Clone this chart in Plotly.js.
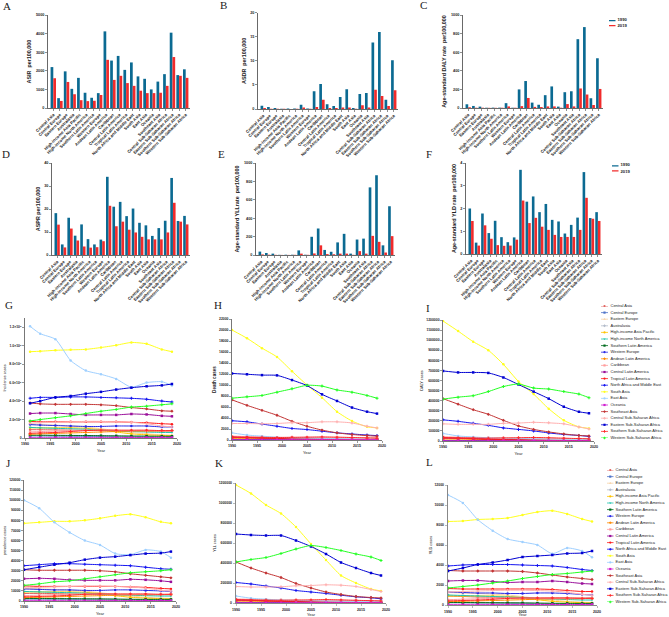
<!DOCTYPE html>
<html>
<head>
<meta charset="utf-8">
<script src="https://cdn.plot.ly/plotly-3.0.1.min.js"></script>
<style>body{margin:0;background:#fff}</style>
</head>
<body>
<div id="chart"></div>
<script>
var regions = ['Central Asia','Central Europe','Eastern Europe','Australasia','High-income Asia Pacific','High-income North America','Southern Latin America','Western Europe','Andean Latin America','Caribbean','Central Latin America','Tropical Latin America','North Africa and Middle East','South Asia','East Asia','Oceania','Southeast Asia','Central Sub-Saharan Africa','Eastern Sub-Saharan Africa','Southern Sub-Saharan Africa','Western Sub-Saharan Africa'];

// bar panels, 1990 and 2019
var asir1990 = [2200,530,1970,1030,1620,820,550,800,4120,2550,2800,2050,2450,1700,1570,1000,1420,1820,4050,1770,2080];
var asir2019 = [1600,380,1400,740,420,370,390,700,2590,1510,1730,1340,1190,930,800,800,820,1190,2740,1730,1620];
var asdr1990 = [0.7,0.4,0.2,0.05,0.1,0.1,0.9,0.1,3.7,5.2,1.0,0.6,2.5,4.1,0.2,3.1,3.3,13.8,16,1.9,10.1];
var asdr2019 = [0.2,0.05,0.05,0.03,0.02,0.05,0.3,0.05,0.4,1.9,0.2,0.2,0.3,0.3,0.03,0.8,0.3,4.0,2.7,0.6,3.9];
var daly1990 = [40,22,15,3,4,4,52,3,200,290,58,35,138,232,15,170,180,740,870,105,535];
var daly2019 = [8,3,3,2,2,3,17,3,20,108,12,10,17,17,3,42,17,210,145,32,205];
var aspr1990 = [18.2,4.6,16.2,8.4,13.3,6.9,4.6,6.7,34,21,23.1,16.9,20.2,14,12.9,8.3,11.7,14.9,33.5,14.8,17];
var aspr2019 = [13.2,3.3,11.5,6.3,3.7,3.2,3.4,6,21.4,12.5,14.5,11,9.8,7.9,6.8,6.8,6.8,9.8,22.7,14.5,13.3];
var yll1990 = [37,22,15,2,3,3,50,3,198,288,55,35,137,230,15,168,178,735,867,105,530];
var yll2019 = [6,3,2,1,1,2,15,2,17,105,10,8,15,15,2,42,15,208,143,27,205];
var yld1990 = [2.0,0.5,1.78,0.92,1.46,0.74,0.52,0.73,3.7,2.3,2.53,1.84,2.2,1.5,1.43,0.9,1.28,1.6,3.6,1.58,1.84];
var yld2019 = [1.45,0.37,1.26,0.67,0.39,0.36,0.37,0.63,2.35,1.36,1.59,1.2,1.06,0.84,0.75,0.75,0.75,1.06,2.47,1.55,1.45];

// line panels, one row per region in legend order
var years = [1990,1993,1996,1999,2002,2005,2008,2011,2014,2017,2019];
var yearsG = [1991,1993,1996,1999,2002,2005,2008,2011,2014,2017,2019];

var incidence = [ // thousands
[9,9,8.8,8.5,8.3,8,7.7,7.5,7.5,7.5,7.6],
[2.3,2.2,2,1.9,1.7,1.6,1.5,1.4,1.3,1.2,1.2],
[15,14.5,14,13,12,10,8,6,4.5,3.5,3],
[2.8,2.8,2.7,2.6,2.5,2.4,2.2,2,1.9,1.8,1.8],
[11,11,11,11,10.5,9,6.5,4.5,3.5,2.8,2.5],
[11.5,11,10.5,10,9.5,8.5,7.5,7,6.5,6,6],
[3,3,2.9,2.8,2.7,2.5,2.3,2.1,2,1.9,1.9],
[14.5,14,13.5,13,12.5,12.5,13,13,13,12,12],
[4,4.5,5,5.5,6,6.5,7,7.5,7.5,7.8,8],
[6.5,7,7.5,8,8.5,8.5,8.3,8,8,8,8],
[26.5,27,27,26,25,25,25,26,25.5,24,23.5],
[18,17.5,17.5,17.5,17.5,17.5,17.5,17,16.5,15.5,15],
[43,44,44,44.5,44.5,44,43.5,43,42,40,39],
[93.5,94,95,95.5,96,98,100.5,103.5,102,96,93.5],
[121,113,107,84,73,69,64,55,60,61,57],
[0.3,0.3,0.3,0.4,0.4,0.4,0.5,0.5,0.5,0.6,0.6],
[38,37,36.5,36.5,36.5,36,35,33,31.5,29.5,29],
[16,16.5,17,17.5,18,18,17.5,17,15.5,13,12],
[37.6,40,44,45.5,48,50,52.5,54.5,56,57,58.5],
[5,5.5,6,7,8,8.5,8.5,8.5,8.5,8,8],
[18.5,20,22,24,26.5,29,31,33.5,34.5,36,37]];

var deaths = [
[400,380,350,300,270,240,200,170,150,130,120],
[60,50,40,30,25,20,15,12,10,8,8],
[120,100,90,80,60,50,40,30,25,20,20],
[3,3,2,2,2,2,2,1,1,1,1],
[40,30,25,20,15,12,10,8,6,5,5],
[30,28,25,22,20,18,15,14,13,12,12],
[20,18,15,12,10,8,7,6,5,5,5],
[30,25,22,20,18,15,12,10,9,8,8],
[320,300,270,230,190,160,130,100,85,70,65],
[700,620,550,500,480,470,450,430,400,380,370],
[500,450,380,300,220,170,130,110,90,75,70],
[550,450,350,280,220,170,130,100,90,80,75],
[3500,3300,2900,2500,2100,1900,1600,1300,1100,900,800],
[20000,18500,16700,15100,12500,10000,7700,5150,3450,2400,2200],
[1300,900,700,500,400,350,300,250,200,180,170],
[40,42,44,46,48,50,52,54,56,58,60],
[7300,6300,5400,4500,3400,2500,1800,1300,1000,800,700],
[3000,3000,2950,3000,3150,3150,3300,3300,3100,2500,2200],
[12100,11950,11800,11750,10900,9900,8300,7100,5900,5150,4800],
[500,500,480,450,480,520,560,520,450,380,340],
[7600,7850,8100,8700,9300,9950,9800,9100,8700,8100,7600]];

var dalys = [ // thousands
[24,23,21,18,16,14,12,10,9,8,7],
[3,2.5,2,1.5,1.3,1,0.9,0.7,0.6,0.5,0.5],
[7,6,5,4.5,3.5,3,2.5,2,1.5,1.2,1.2],
[0.2,0.2,0.2,0.1,0.1,0.1,0.1,0.1,0.1,0.1,0.1],
[2,1.7,1.4,1.1,0.9,0.7,0.6,0.5,0.4,0.3,0.3],
[2,1.8,1.6,1.4,1.3,1.1,1,0.9,0.9,0.8,0.8],
[1.3,1.1,0.9,0.8,0.6,0.5,0.4,0.4,0.3,0.3,0.3],
[2,1.6,1.4,1.3,1.1,0.9,0.8,0.7,0.6,0.5,0.5],
[20,19,17,14,12,10,8,6,5,4.5,4],
[42,38,34,31,30,29,28,27,25,24,23],
[31,28,24,19,14,10.5,8,7,5.5,4.6,4.3],
[34,28,22,17,14,10.5,8,6,5.5,5,4.6],
[210,195,175,155,130,115,100,80,65,55,45],
[1190,1090,985,900,760,590,465,320,205,140,125],
[75,50,40,32,28,25,22,20,18,17,16],
[2.5,2.6,2.7,2.8,3,3.1,3.2,3.3,3.5,3.6,3.7],
[420,365,310,265,205,150,115,90,70,55,50],
[170,165,165,165,175,178,185,180,170,140,120],
[695,680,680,675,630,560,490,420,340,290,275],
[31,31,30,28,30,32,35,32,28,24,21],
[415,435,450,490,540,565,525,515,490,465,430]];

var prevalence = [ // thousands
[7.5,7.5,7.3,7,6.9,6.6,6.4,6.2,6.2,6.2,6.3],
[1.9,1.8,1.7,1.6,1.4,1.3,1.2,1.2,1.1,1,1],
[12.3,12,11.5,10.7,9.9,8.2,6.6,4.9,3.7,2.9,2.5],
[2.3,2.3,2.2,2.1,2.1,2,1.8,1.6,1.6,1.5,1.5],
[9,9,9,9,8.6,7.4,5.3,3.7,2.9,2.3,2.1],
[9.5,9,8.6,8.2,7.8,7,6.2,5.8,5.3,4.9,4.9],
[2.5,2.5,2.4,2.3,2.2,2.1,1.9,1.7,1.6,1.6,1.6],
[12,11.5,11,11,10.5,10.5,11,11,10.5,10,9.5],
[3.3,3.7,4.1,4.5,4.9,5.3,5.8,6.2,6.2,6.4,6.6],
[5.3,5.8,6.2,6.6,7,7,6.8,6.6,6.6,6.6,6.6],
[22,22.5,22,21,20.5,20.5,20.5,21.5,21,20,19],
[15,14.5,14.5,14.5,14.5,14.5,14.5,14,13.5,12.5,12],
[35,36,37,37,36.5,36,35.5,35,33.5,32,31.5],
[77,78,79,79,80,82,84.5,86,83,78.5,77],
[100,92,78,68,60,55.6,47,46,50.7,49,43],
[0.3,0.3,0.3,0.3,0.3,0.4,0.4,0.4,0.5,0.5,0.5],
[31,30.5,30.5,30.5,30.5,30,29,27,25.5,24,23],
[13,13.5,14,14.4,14.8,14.8,14.4,14,12.7,10.7,9.8],
[31,33.5,36,38,41,43,44,45.5,47,47.5,49],
[4.1,4.5,4.9,5.7,6.6,7,7,7,7,6.6,6.6],
[15.5,17,19,20,22,24,26,28,29,30,31]];

var ylls = [ // thousands
[23,22,20,18,15,13,11,9.5,8.5,7.5,7],
[2.8,2.4,2,1.5,1.2,1,0.8,0.7,0.6,0.5,0.5],
[6.5,5.5,5,4,3.3,2.8,2.3,1.8,1.4,1.1,1.1],
[0.2,0.2,0.2,0.1,0.1,0.1,0.1,0.1,0.1,0.1,0.1],
[1.9,1.6,1.3,1,0.8,0.7,0.6,0.5,0.4,0.3,0.3],
[1.9,1.7,1.5,1.3,1.2,1,0.9,0.9,0.8,0.8,0.7],
[1.2,1,0.9,0.7,0.6,0.5,0.4,0.3,0.3,0.3,0.3],
[1.9,1.5,1.3,1.2,1,0.9,0.7,0.6,0.6,0.5,0.5],
[19,18,16,14,11,9.5,7.5,6,5,4.2,3.8],
[40,37,33,30,29,28,27,26,24,23,22],
[30,27,23,18,13.5,10,7.8,6.5,5.3,4.4,4.1],
[33,27,21,17,13,10,7.8,6,5.3,4.8,4.5],
[205,190,170,150,125,110,95,78,62,52,42],
[1180,1095,980,895,760,590,430,275,200,140,120],
[70,48,38,30,26,23,20,18,17,16,15],
[2.4,2.5,2.6,2.7,2.9,3,3.1,3.2,3.4,3.5,3.6],
[410,350,300,255,195,150,110,85,65,55,50],
[165,160,160,162,172,175,182,178,165,135,115],
[690,680,675,675,625,565,490,405,350,300,275],
[30,30,29,27,29,31,34,31,27,23,20],
[410,435,455,495,540,575,555,525,490,460,425]];

var ylds = [
[900,850,800,780,750,700,680,700,700,700,720],
[230,220,200,190,170,160,150,140,130,120,120],
[1250,1200,1150,1080,1000,830,660,500,370,290,250],
[230,230,220,210,210,200,180,160,160,150,150],
[900,900,900,900,860,740,530,370,290,230,210],
[1000,950,900,850,800,750,650,600,550,500,500],
[250,250,240,230,220,210,190,170,160,160,160],
[1300,1250,1200,1200,1150,1150,1200,1200,1150,1050,1000],
[330,370,410,450,490,530,580,620,620,640,660],
[530,580,620,660,700,700,680,660,660,660,660],
[2400,2450,2450,2350,2250,2300,2300,2400,2300,2150,2100],
[1650,1600,1600,1600,1600,1600,1600,1550,1450,1350,1350],
[3900,4000,4050,4050,4050,4000,3950,3900,3750,3550,3450],
[8350,8400,8550,8600,8700,9000,9300,9430,9100,8600,8350],
[11000,10200,8530,7430,6600,6300,6000,5130,5700,5400,4770],
[30,30,30,40,40,40,50,50,50,50,60],
[3450,3400,3400,3400,3400,3350,3200,3000,2800,2650,2550],
[1300,1350,1400,1440,1480,1480,1440,1400,1270,1070,980],
[3400,3700,4050,4250,4500,4800,4900,5000,5150,5200,5400],
[410,450,490,570,660,700,700,700,700,660,660],
[1700,1850,2000,2200,2400,2650,2850,3050,3150,3300,3400]];

var lineColors = ['#e0605c','#4f74c8','#f6d2a6','#b4bccb','#ffc400','#1fc4ae','#006b1e','#2a2ae6','#ff8a00','#ff9d9d','#9a0f9a','#ff1a1a','#1414f0','#ffff1e','#9fd0ff','#d01fd0','#c23434','#ffb0b0','#0000d2','#ff2a2a','#22ff22'];
var lineSymbols = ['circle','square','triangle-up','diamond','circle','triangle-down','square','circle','cross','square','square','circle','cross','circle','circle','square','diamond','cross','square','cross','cross'];
var color1990 = '#0b6a92', color2019 = '#f12b2b';
var font = 'Liberation Sans, Arial, sans-serif';

var data = [], annotations = [];
// bottom margin leaves room for the last row's Year titles, titles are kept inside the margins
var layout = {
  width: 669, height: 617, showlegend: false, bargap: 0.18, bargroupgap: 0,
  margin: {l: 0, r: 0, t: 0, b: 10},
  paper_bgcolor: '#fff', plot_bgcolor: 'rgba(0,0,0,0)',
  font: {family: font, color: '#222'}
};
var W = 669, H = 607, axisCount = 0;

function addAxes(box, xopts, yopts){
  axisCount++;
  var s = axisCount === 1 ? '' : String(axisCount);
  xopts.domain = [box[0] / W, box[1] / W];
  yopts.domain = [1 - box[3] / H, 1 - box[2] / H];
  xopts.anchor = 'y' + s; yopts.anchor = 'x' + s;
  layout['xaxis' + s] = xopts; layout['yaxis' + s] = yopts;
  return {x: 'x' + s, y: 'y' + s};
}

function axisStyle(col, wid, size, bold){
  return {showgrid: false, zeroline: false, showline: true, linecolor: col, linewidth: wid,
    ticks: 'outside', ticklen: 2, tickwidth: 0.6, tickcolor: col,
    tickfont: {size: size, family: font, color: '#222', weight: bold ? 'bold' : 'normal'}};
}

function barPanel(box, title, top, step, v1990, v2019){
  var xa = axisStyle('#444', 0.8, 4.2, true);
  xa.type = 'category'; xa.tickangle = -45; xa.range = [-0.8, 20.65];
  xa.tickmode = 'linear'; xa.tick0 = 0; xa.dtick = 1;
  var ya = axisStyle('#444', 0.8, 3.8, true);
  ya.range = [0, top]; ya.dtick = step;
  ya.title = {text: title, standoff: 3, font: {size: 5.4, family: font, weight: 'bold'}};
  var ax = addAxes(box, xa, ya);
  data.push({type: 'bar', x: regions, y: v1990, name: '1990', marker: {color: color1990}, xaxis: ax.x, yaxis: ax.y, offsetgroup: '1'});
  data.push({type: 'bar', x: regions, y: v2019, name: '2019', marker: {color: color2019}, xaxis: ax.x, yaxis: ax.y, offsetgroup: '2'});
}

function linePanel(box, title, titleSize, rows, scale, yTop, yTicks, yLabels, xYears, heavy){
  var xa = axisStyle(heavy ? '#888' : '#555', heavy ? 1.4 : 0.8, 3.6, true);
  xa.range = [1990, 2020]; xa.dtick = 5; xa.tick0 = 1990;
  xa.title = {text: 'Year', standoff: heavy ? 5 : 3, font: {size: 4, family: font}};
  var ya = axisStyle(heavy ? '#888' : '#555', heavy ? 1.4 : 0.8, 3.4, true);
  ya.range = [0, yTop]; ya.tickmode = 'array'; ya.tickvals = yTicks;
  ya.ticktext = yLabels || yTicks.map(String);
  ya.title = {text: title, standoff: 2, font: {size: titleSize, family: font, weight: titleSize > 4.2 ? 'bold' : 'normal'}};
  var ax = addAxes(box, xa, ya);
  rows.forEach(function(row, i){
    data.push({type: 'scatter', mode: 'lines+markers', x: xYears, name: regions[i],
      y: row.map(function(v){ return v * scale; }),
      line: {color: lineColors[i], width: 1, shape: 'spline', smoothing: 0.6},
      marker: {color: lineColors[i], symbol: lineSymbols[i], size: 2.5},
      xaxis: ax.x, yaxis: ax.y});
  });
}

function seq(top, step){
  var out = [];
  for (var v = 0; v <= top; v += step) out.push(v);
  return out;
}

// legends are small hidden subplots so the rows can sit tighter than the built-in legend allows
function lineLegend(box, textX, swatchW){
  var ya = {visible: false, range: [20, 0]};
  var xa = {visible: false, range: [0, box[1] - box[0]]};
  var ax = addAxes(box, xa, ya);
  regions.forEach(function(name, i){
    data.push({type: 'scatter', mode: 'lines', x: [0, swatchW], y: [i, i], line: {color: lineColors[i], width: 0.8}, cliponaxis: false, xaxis: ax.x, yaxis: ax.y});
    data.push({type: 'scatter', mode: 'markers', x: [swatchW / 2], y: [i], marker: {color: lineColors[i], symbol: lineSymbols[i], size: 2.2}, cliponaxis: false, xaxis: ax.x, yaxis: ax.y});
    data.push({type: 'scatter', mode: 'text', x: [textX], y: [i], text: [name], textposition: 'middle right', textfont: {size: 4, family: font, color: '#222'}, cliponaxis: false, xaxis: ax.x, yaxis: ax.y});
  });
}

function barLegend(box, textX, swatchW){
  var ax = addAxes(box, {visible: false, range: [0, box[1] - box[0]]}, {visible: false, range: [1, 0]});
  [['1990', color1990], ['2019', color2019]].forEach(function(item, i){
    data.push({type: 'scatter', mode: 'lines', x: [0, swatchW], y: [i, i], line: {color: item[1], width: 2.6}, cliponaxis: false, xaxis: ax.x, yaxis: ax.y});
    data.push({type: 'scatter', mode: 'text', x: [textX], y: [i], text: [item[0]], textposition: 'middle right', textfont: {size: 4.2, family: font, color: '#222', weight: 'bold'}, cliponaxis: false, xaxis: ax.x, yaxis: ax.y});
  });
}

barPanel([48,190,15,108], 'ASIR  per100,000', 5000, 1000, asir1990, asir2019);
barPanel([258,398,12.7,109], 'ASDR  per100,000', 20, 5, asdr1990, asdr2019);
barPanel([463,603,15,108], 'Age-standard DALY rate  per100,000', 1000, 200, daly1990, daly2019);
barPanel([52,190,163,255], 'ASPR per100,000', 40, 10, aspr1990, aspr2019);
barPanel([256,395,163,255], 'Age-standard YLLrate  per100,000', 1000, 200, yll1990, yll2019);
barPanel([466,602,163,254], 'Age-standard YLD rate  per100,000', 4, 1, yld1990, yld2019);

var gTicks = [0,20,40,60,80,100,120];
var gLabels = ['0','2.0×10⁴','4.0×10⁴','6.0×10⁴','8.0×10⁴','1.0×10⁵','1.2×10⁵'];
linePanel([25,177,318,438], 'Incidence cases', 3.8, incidence, 1, 130, gTicks, gLabels, yearsG, false);
linePanel([232,382,319,440], 'Death cases', 4.6, deaths, 1, 22000, seq(22000,2000), null, years, false);
linePanel([443,594,320,441], 'DALY cases', 3.8, dalys, 1000, 1200000, seq(1200000,100000), null, years, false);
linePanel([24,176,480,601], 'prevalence cases', 3.8, prevalence, 1000, 120000, seq(120000,10000), null, years, false);
linePanel([236,386,483,603], 'YLL cases', 3.8, ylls, 1000, 1200000, seq(1200000,200000), null, years, true);
linePanel([448,597,485,605], 'YLD cases', 3.8, ylds, 1, 12000, seq(12000,2000), null, years, true);

barLegend([609,669,20,26.3], 8.5, 6.5);
barLegend([612,669,165.3,171.6], 8.5, 6.5);
lineLegend([601,669,306,438], 9.5, 7);
lineLegend([607,669,470,602], 8.5, 6.5);

var letters = [['A',1,6],['B',218,5],['C',418,5],['D',0,154],['E',216,154],['F',424,154],['G',3,305],['H',212,305],['I',424,308],['J',4,463],['K',213,463],['L',424,462]];
letters.forEach(function(l){
  annotations.push({text: l[0], xref: 'paper', yref: 'paper', x: l[1] / W, y: 1 - l[2] / H, xanchor: 'left', yanchor: 'middle', showarrow: false,
    font: {family: 'Liberation Serif, serif', size: 11, color: '#222'}});
});
layout.annotations = annotations;

Plotly.newPlot('chart', data, layout, {displayModeBar: false, staticPlot: true});
</script>
</body>
</html>
